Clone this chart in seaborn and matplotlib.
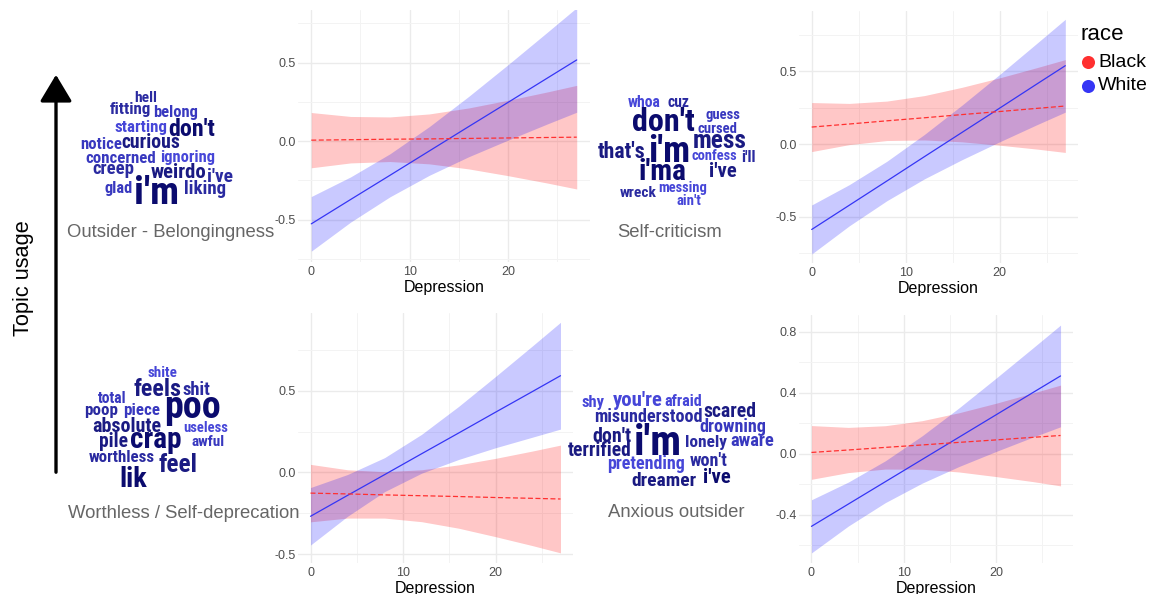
import os
import numpy as np
import pandas as pd
import matplotlib
matplotlib.use("Agg")
import matplotlib.pyplot as plt
import seaborn as sns
from matplotlib.lines import Line2D
from matplotlib import font_manager

# fitted lines and 95% bands, at these depression scores
depression = [0, 4, 8, 12, 16, 20, 24, 27]

outsider_white_fit = [-0.527, -0.372, -0.218, -0.063, 0.092, 0.246, 0.401, 0.517]
outsider_white_lo = [-0.701, -0.516, -0.355, -0.218, -0.100, 0.006, 0.109, 0.184]
outsider_white_hi = [-0.353, -0.228, -0.081, 0.092, 0.284, 0.486, 0.693, 0.850]
outsider_black_fit = [0.006, 0.009, 0.012, 0.014, 0.017, 0.020, 0.023, 0.025]
outsider_black_lo = [-0.170, -0.139, -0.130, -0.145, -0.177, -0.220, -0.267, -0.305]
outsider_black_hi = [0.182, 0.157, 0.154, 0.173, 0.211, 0.260, 0.313, 0.355]

selfcrit_white_fit = [-0.589, -0.422, -0.255, -0.087, 0.080, 0.247, 0.415, 0.540]
selfcrit_white_lo = [-0.758, -0.564, -0.391, -0.240, -0.108, 0.015, 0.134, 0.220]
selfcrit_white_hi = [-0.420, -0.280, -0.119, 0.066, 0.268, 0.479, 0.696, 0.860]
selfcrit_black_fit = [0.117, 0.138, 0.160, 0.181, 0.203, 0.224, 0.246, 0.262]
selfcrit_black_lo = [-0.052, -0.004, 0.024, 0.028, 0.015, -0.008, -0.035, -0.058]
selfcrit_black_hi = [0.286, 0.280, 0.296, 0.334, 0.391, 0.456, 0.527, 0.582]

worthless_white_fit = [-0.269, -0.141, -0.014, 0.114, 0.241, 0.369, 0.496, 0.592]
worthless_white_lo = [-0.445, -0.269, -0.118, -0.005, 0.079, 0.151, 0.216, 0.265]
worthless_white_hi = [-0.093, -0.013, 0.090, 0.233, 0.404, 0.588, 0.776, 0.919]
worthless_black_fit = [-0.127, -0.132, -0.138, -0.143, -0.148, -0.154, -0.159, -0.163]
worthless_black_lo = [-0.303, -0.280, -0.280, -0.302, -0.342, -0.394, -0.449, -0.493]
worthless_black_hi = [0.049, 0.016, 0.004, 0.016, 0.046, 0.086, 0.131, 0.167]

anxious_white_fit = [-0.475, -0.329, -0.183, -0.037, 0.109, 0.255, 0.401, 0.510]
anxious_white_lo = [-0.649, -0.473, -0.320, -0.192, -0.083, 0.015, 0.109, 0.177]
anxious_white_hi = [-0.301, -0.185, -0.046, 0.118, 0.301, 0.495, 0.693, 0.843]
anxious_black_fit = [0.009, 0.025, 0.042, 0.058, 0.075, 0.091, 0.108, 0.120]
anxious_black_lo = [-0.167, -0.123, -0.100, -0.101, -0.119, -0.149, -0.182, -0.210]
anxious_black_hi = [0.185, 0.173, 0.184, 0.217, 0.269, 0.331, 0.398, 0.450]

topics = ["Outsider - Belongingness", "Self-criticism",
          "Worthless / Self-deprecation", "Anxious outsider"]
races = ["Black", "White"]

rows = []
series = {
    topics[0]: {"White": (outsider_white_fit, outsider_white_lo, outsider_white_hi),
                "Black": (outsider_black_fit, outsider_black_lo, outsider_black_hi)},
    topics[1]: {"White": (selfcrit_white_fit, selfcrit_white_lo, selfcrit_white_hi),
                "Black": (selfcrit_black_fit, selfcrit_black_lo, selfcrit_black_hi)},
    topics[2]: {"White": (worthless_white_fit, worthless_white_lo, worthless_white_hi),
                "Black": (worthless_black_fit, worthless_black_lo, worthless_black_hi)},
    topics[3]: {"White": (anxious_white_fit, anxious_white_lo, anxious_white_hi),
                "Black": (anxious_black_fit, anxious_black_lo, anxious_black_hi)},
}
for t, d in series.items():
    for r, (fit, lo, hi) in d.items():
        for x, f, l, h in zip(depression, fit, lo, hi):
            rows.append({"topic": t, "race": r, "depression": x, "fit": f, "lo": l, "hi": h})
df = pd.DataFrame(rows)

# word clouds: (word, centre x px, baseline px, width px, colour)
NAVY = "#0b0b6e"
DARK = "#1a1a82"
MID = "#2a2aa0"
LIGHT = "#3838bf"
PALE = "#4646d8"
clouds = [
    [("hell", 146, 102, 23, MID), ("fitting", 130, 114, 41, MID), ("belong", 176, 117, 45, LIGHT),
     ("starting", 141, 132, 53, PALE), ("don't", 192, 136, 47, NAVY), ("notice", 101, 149, 42, LIGHT),
     ("curious", 151, 148, 59, DARK), ("concerned", 121, 163, 71, LIGHT), ("ignoring", 188, 162, 55, PALE),
     ("creep", 113, 174, 42, MID), ("weirdo", 179, 178, 56, DARK), ("i've", 220, 182, 26, MID),
     ("glad", 119, 193, 28, LIGHT), ("i'm", 157, 204, 45, NAVY), ("liking", 205, 194, 42, MID)],
    [("whoa", 644, 107, 33, PALE), ("cuz", 679, 107, 22, MID), ("guess", 723, 119, 35, LIGHT),
     ("don't", 663, 131, 63, NAVY), ("cursed", 717, 133, 40, LIGHT), ("mess", 720, 148, 54, DARK),
     ("that's", 622, 158, 48, DARK), ("i'm", 669, 162, 42, NAVY), ("confess", 714, 160, 46, PALE),
     ("i'll", 748, 162, 15, MID), ("i'ma", 663, 180, 48, NAVY), ("i've", 723, 177, 28, DARK),
     ("wreck", 638, 197, 37, MID), ("messing", 683, 192, 49, PALE), ("ain't", 689, 205, 25, PALE)],
    [("shite", 163, 377, 30, PALE), ("feels", 158, 396, 48, DARK), ("shit", 196, 395, 28, MID),
     ("total", 112, 403, 29, LIGHT), ("poo", 193, 418, 57, NAVY), ("poop", 101, 415, 34, MID),
     ("piece", 142, 415, 37, LIGHT), ("absolute", 127, 432, 69, DARK), ("useless", 206, 432, 45, PALE),
     ("pile", 114, 447, 29, DARK), ("crap", 156, 448, 52, NAVY), ("awful", 208, 446, 33, LIGHT),
     ("worthless", 122, 462, 66, MID), ("feel", 178, 472, 39, DARK), ("lik", 133, 487, 28, NAVY)],
    [("shy", 593, 407, 23, PALE), ("you're", 638, 406, 50, PALE), ("afraid", 683, 406, 38, PALE),
     ("scared", 730, 417, 53, DARK), ("misunderstood", 648, 422, 109, MID), ("drowning", 733, 432, 67, LIGHT),
     ("don't", 612, 442, 39, DARK), ("i'm", 658, 455, 48, NAVY), ("lonely", 706, 447, 42, MID),
     ("aware", 752, 446, 44, LIGHT), ("terrified", 600, 456, 64, DARK), ("pretending", 646, 469, 78, PALE),
     ("won't", 709, 466, 38, MID), ("dreamer", 664, 486, 65, DARK), ("i've", 717, 483, 28, NAVY)],
]
labels_xy = [(171, 237), (670, 237), (184, 518), (676, 517)]


def narrow_bold_font():
    # pick an installed condensed bold face for the word clouds
    files = [f.fname for f in font_manager.fontManager.ttflist]
    prefs = ["liberationsansnarrow", "robotocondensed", "notosans", "opensans", "dejavusans"]
    for p in prefs:
        for fn in files:
            b = os.path.basename(fn).lower().replace("-", "").replace("_", "")
            if not b.startswith(p) or "italic" in b or "mono" in b:
                continue
            if ("narrow" in b or "condensed" in b) and "bold" in b and "extra" not in b \
                    and "semi" not in b and "black" not in b:
                return font_manager.FontProperties(fname=fn)
    return font_manager.FontProperties(family="Roboto", weight="bold")


W, H = 1153, 594
sns.set_theme(style="white")
plt.rcParams["font.family"] = ["Liberation Sans", "DejaVu Sans"]
plt.rcParams["axes.unicode_minus"] = False

fig = plt.figure(figsize=(W / 100, H / 100), dpi=100)


def px_rect(left, top, right, bottom):
    return [left / W, 1 - bottom / H, (right - left) / W, (bottom - top) / H]


panel_rects = [px_rect(298, 10, 590, 262), px_rect(799, 11, 1078, 263),
               px_rect(298, 313, 573, 563), px_rect(799, 315, 1073, 563)]
ylims = [(-0.77, 0.835), (-0.82, 0.917), (-0.555, 0.976), (-0.715, 0.909)]
yticks = [[-0.5, 0.0, 0.5], [-0.5, 0.0, 0.5], [-0.5, 0.0, 0.5], [-0.4, 0.0, 0.4, 0.8]]
yminor = [[-0.75, -0.25, 0.25, 0.75], [-0.75, -0.25, 0.25, 0.75],
          [-0.25, 0.25, 0.75], [-0.6, -0.2, 0.2, 0.6]]

colors = {"Black": "#FF3030", "White": "#3535F5"}
fills = {"Black": (1, 0, 0, 0.22), "White": (0, 0, 1, 0.21)}

for i, t in enumerate(topics):
    ax = fig.add_axes(panel_rects[i])
    sub = df[df.topic == t]
    for r in races:
        s = sub[sub.race == r]
        ax.fill_between(s.depression, s.lo, s.hi, color=fills[r], linewidth=0)
    sns.lineplot(data=sub, x="depression", y="fit", hue="race", style="race",
                 palette=colors, dashes={"Black": (4, 2), "White": ""},
                 linewidth=0.9, legend=False, ax=ax)
    ax.set_xlim(-1.35, 28.35)
    ax.set_ylim(*ylims[i])
    ax.set_xticks([0, 10, 20])
    ax.set_xticks([5, 15, 25], minor=True)
    ax.set_yticks(yticks[i])
    ax.set_yticklabels([f"{v:.1f}" for v in yticks[i]])
    ax.set_yticks(yminor[i], minor=True)
    ax.grid(which="major", color="#EBEBEB", linewidth=1.0)
    ax.grid(which="minor", color="#F3F3F3", linewidth=0.7)
    ax.set_axisbelow(True)
    for sp in ax.spines.values():
        sp.set_visible(False)
    ax.tick_params(which="both", length=0, labelsize=9, labelcolor="#4D4D4D")
    ax.tick_params(axis="x", pad=3)
    ax.tick_params(axis="y", pad=1.5)
    ax.set_xlabel("Depression", fontsize=11.5, color="black", labelpad=1)
    ax.set_ylabel("")

# word clouds, each word sized to its width in the reference
word_font = narrow_bold_font()
renderer = fig.canvas.get_renderer()
for words in clouds:
    for w, x, y, wpx, c in words:
        txt = fig.text(x / W, 1 - y / H, w, ha="center", va="baseline", fontsize=12,
                       color=c, fontproperties=word_font)
        txt.set_fontsize(12)
        bw = txt.get_window_extent(renderer).width
        txt.set_fontsize(12 * wpx / bw)

for t, (x, y) in zip(topics, labels_xy):
    fig.text(x / W, 1 - y / H, t, ha="center", va="baseline", fontsize=13.3, color="#666666")

# topic usage arrow
fig.patches.append(matplotlib.patches.FancyArrowPatch(
    (56 / W, 1 - 475 / H), (56 / W, 1 - 72 / H), transform=fig.transFigure,
    arrowstyle="-|>,head_length=0.75,head_width=0.45", mutation_scale=22,
    color="black", linewidth=2.4))
fig.text(23 / W, 1 - 278 / H, "Topic usage", rotation=90, ha="center", va="center",
         fontsize=15.7, color="black")

# legend
fig.text(1080 / W, 1 - 40 / H, "race", ha="left", va="baseline", fontsize=16, color="black")
for r, ym, yb in zip(races, [61.7, 85.7], [66.7, 90]):
    fig.add_artist(Line2D([1088 / W], [1 - ym / H], transform=fig.transFigure, linestyle="",
                          marker="o", markersize=9.4, markerfacecolor=colors[r],
                          markeredgewidth=0))
    fig.text(1098 / W, 1 - yb / H, r, ha="left", va="baseline", fontsize=14, color="black")

fig.savefig("out.png", dpi=100)
